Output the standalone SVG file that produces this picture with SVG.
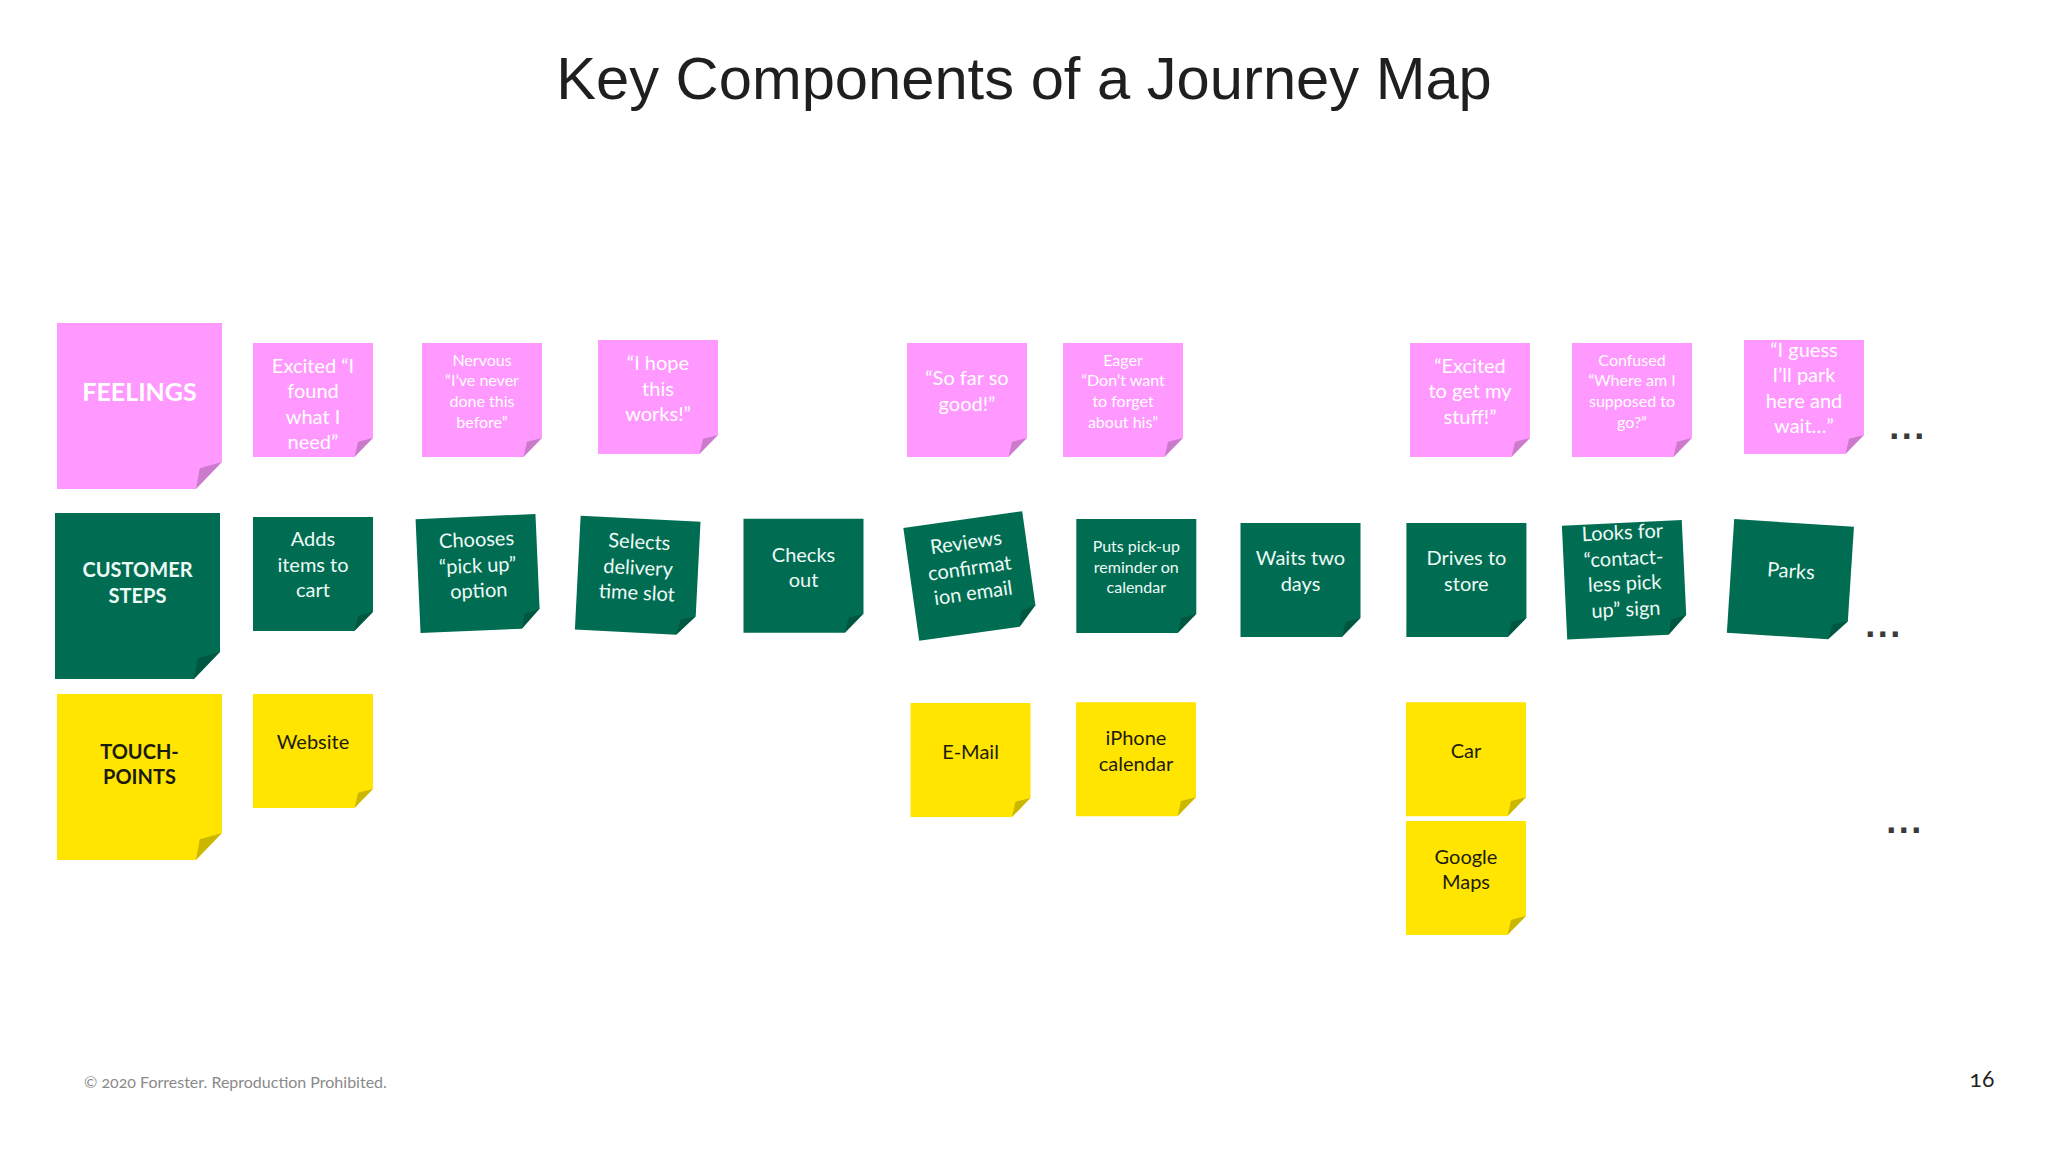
<svg xmlns="http://www.w3.org/2000/svg" width="2048" height="1152" viewBox="0 0 2048 1152">
<style>
text{font-family:"Lato","Open Sans","Liberation Sans",sans-serif;text-anchor:middle}
.title{font-family:"Liberation Sans",Arial,sans-serif;font-size:59.700px;fill:#1f1f1f}
.flap{fill:#000;fill-opacity:.2}
.pink{fill:#ff99ff}.pink text{fill:#fff}
.green{fill:#006d52}.green text{fill:#eefaf6}
.yellow{fill:#ffe500}.yellow text{fill:#1c1c0c}
.t{font-size:20px}.s{font-size:16px}.h{font-size:20px;font-weight:700}.f{font-size:25px;font-weight:700}
.dots{font-family:"Liberation Sans",sans-serif;font-size:36px;font-weight:700;letter-spacing:2.500px;fill:#3a3a3a}
.foot{font-size:16px;fill:#8a8a8a;text-anchor:start;font-variant-numeric:oldstyle-nums}
.page{font-size:23px;fill:#222;font-variant-numeric:oldstyle-nums}
</style>
<defs>
<g id="note"><path d="M0 0H120V95L101.500 114H0Z"/><path class="flap" d="M101.500 114L105 98.700L120 95Z"/></g>
<g id="big"><path d="M0 0H165V139L139 166H0Z"/><path class="flap" d="M139 166L142.700 145.300L165 139Z"/></g>
</defs>
<rect width="2048" height="1152" fill="#fff"/>
<text class="title" x="1024" y="99">Key Components of a Journey Map</text>

<g id="feelings-header" class="pink" transform="translate(57 323)"><use href="#big"/><text class="f" x="82.500" y="78">FEELINGS</text></g>
<g id="feeling-1" class="pink" transform="translate(253 343)"><use href="#note"/><text class="t"><tspan x="60" y="29.700">Excited “I</tspan><tspan x="60" y="55.300">found</tspan><tspan x="60" y="81">what I</tspan><tspan x="60" y="106.300">need”</tspan></text></g>
<g id="feeling-2" class="pink" transform="translate(422 343)"><use href="#note"/><text class="s"><tspan x="60" y="22.700">Nervous</tspan><tspan x="60" y="43">“I’ve never</tspan><tspan x="60" y="63.700">done this</tspan><tspan x="60" y="84.700">before”</tspan></text></g>
<g id="feeling-3" class="pink" transform="translate(598 340)"><use href="#note"/><text class="t"><tspan x="60" y="30">“I hope</tspan><tspan x="60" y="55.500">this</tspan><tspan x="60" y="81">works!”</tspan></text></g>
<g id="feeling-4" class="pink" transform="translate(907 343)"><use href="#note"/><text class="t"><tspan x="60" y="42.300">“So far so</tspan><tspan x="60" y="68">good!”</tspan></text></g>
<g id="feeling-5" class="pink" transform="translate(1063 343)"><use href="#note"/><text class="s"><tspan x="60" y="22.700">Eager</tspan><tspan x="60" y="43">“Don’t want</tspan><tspan x="60" y="63.700">to forget</tspan><tspan x="60" y="84.700">about his”</tspan></text></g>
<g id="feeling-6" class="pink" transform="translate(1410 343)"><use href="#note"/><text class="t"><tspan x="60" y="29.700">“Excited</tspan><tspan x="60" y="55.300">to get my</tspan><tspan x="60" y="80.800">stuff!”</tspan></text></g>
<g id="feeling-7" class="pink" transform="translate(1572 343)"><use href="#note"/><text class="s"><tspan x="60" y="22.700">Confused</tspan><tspan x="60" y="43">“Where am I</tspan><tspan x="60" y="63.700">supposed to</tspan><tspan x="60" y="84.700">go?”</tspan></text></g>
<g id="feeling-8" class="pink" transform="translate(1744 340)"><use href="#note"/><text class="t"><tspan x="60" y="16.500">“I guess</tspan><tspan x="60" y="42.200">I’ll park</tspan><tspan x="60" y="67.800">here and</tspan><tspan x="60" y="93.200">wait…”</tspan></text></g>

<g id="steps-header" class="green" transform="translate(55 513)"><use href="#big"/><text class="h"><tspan x="82.500" y="64.300">CUSTOMER</tspan><tspan x="82.500" y="89.700">STEPS</tspan></text></g>
<g id="step-1" class="green" transform="translate(253 517)"><use href="#note"/><text class="t"><tspan x="60" y="28.700">Adds</tspan><tspan x="60" y="54.700">items to</tspan><tspan x="60" y="80.300">cart</tspan></text></g>
<g id="step-2" class="green" transform="translate(478 573.500) rotate(-2.500) translate(-60 -57)"><use href="#note"/><text class="t"><tspan x="60" y="30">Chooses</tspan><tspan x="60" y="56">“pick up”</tspan><tspan x="60" y="81">option</tspan></text></g>
<g id="step-3" class="green" transform="translate(637.700 575.600) rotate(2.900) translate(-60 -57)"><use href="#note"/><text class="t"><tspan x="60" y="30">Selects</tspan><tspan x="60" y="56">delivery</tspan><tspan x="60" y="81">time slot</tspan></text></g>
<g id="step-4" class="green" transform="translate(743.500 518.700)"><use href="#note"/><text class="t"><tspan x="60" y="43">Checks</tspan><tspan x="60" y="68">out</tspan></text></g>
<g id="step-5" class="green" transform="translate(970.700 576) rotate(-8) translate(-60 -57)"><use href="#note"/><text class="t"><tspan x="60" y="30">Reviews</tspan><tspan x="60" y="56">confirmat</tspan><tspan x="60" y="81">ion email</tspan></text></g>
<g id="step-6" class="green" transform="translate(1076.300 519)"><use href="#note"/><text class="s"><tspan x="60" y="33">Puts pick-up</tspan><tspan x="60" y="53.700">reminder on</tspan><tspan x="60" y="74.300">calendar</tspan></text></g>
<g id="step-7" class="green" transform="translate(1240.500 523)"><use href="#note"/><text class="t"><tspan x="60" y="42">Waits two</tspan><tspan x="60" y="67.700">days</tspan></text></g>
<g id="step-8" class="green" transform="translate(1406.400 523)"><use href="#note"/><text class="t"><tspan x="60" y="42">Drives to</tspan><tspan x="60" y="67.700">store</tspan></text></g>
<g id="step-9" class="green" transform="translate(1624.500 579.800) rotate(-2.700) translate(-60 -57)"><use href="#note"/><text class="t"><tspan x="60" y="16.500">Looks for</tspan><tspan x="60" y="42.500">“contact-</tspan><tspan x="60" y="67.500">less pick</tspan><tspan x="60" y="93.500">up” sign</tspan></text></g>
<g id="step-10" class="green" transform="translate(1790.400 579.800) rotate(3.700) translate(-60 -57)"><use href="#note"/><text class="t" x="60" y="55">Parks</text></g>

<g id="touch-header" class="yellow" transform="translate(57 694)"><use href="#big"/><text class="h"><tspan x="82.500" y="65">TOUCH-</tspan><tspan x="82.500" y="90">POINTS</tspan></text></g>
<g id="touch-1" class="yellow" transform="translate(253 694)"><use href="#note"/><text class="t" x="60" y="54.700">Website</text></g>
<g id="touch-2" class="yellow" transform="translate(910.500 703)"><use href="#note"/><text class="t" x="60" y="56">E-Mail</text></g>
<g id="touch-3" class="yellow" transform="translate(1076 702.300)"><use href="#note"/><text class="t"><tspan x="60" y="42.700">iPhone</tspan><tspan x="60" y="68.400">calendar</tspan></text></g>
<g id="touch-4" class="yellow" transform="translate(1406 702.300)"><use href="#note"/><text class="t" x="60" y="55.400">Car</text></g>
<g id="touch-5" class="yellow" transform="translate(1406 821)"><use href="#note"/><text class="t"><tspan x="60" y="43">Google</tspan><tspan x="60" y="68">Maps</tspan></text></g>

<g id="connectors"></g>
<text class="dots" x="1908" y="439">...</text>
<text class="dots" x="1884" y="637">...</text>
<text class="dots" x="1905" y="833">...</text>
<text class="foot" x="84" y="1088">© 2020 Forrester. Reproduction Prohibited.</text>
<text class="page" x="1982" y="1087">16</text>
</svg>
